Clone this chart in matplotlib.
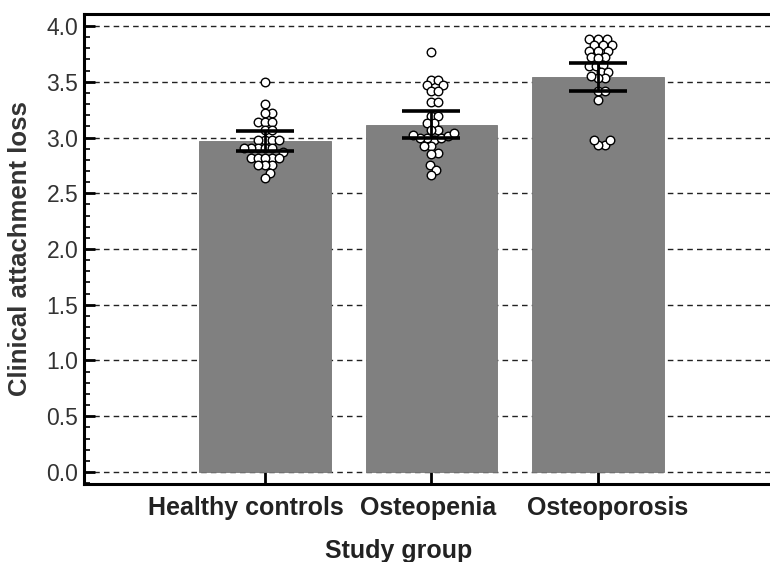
import matplotlib
matplotlib.use('Agg')
import matplotlib.pyplot as plt
import matplotlib.transforms as mtransforms
import numpy as np
from matplotlib.ticker import MultipleLocator

plt.rcParams['font.family'] = ['Liberation Sans', 'DejaVu Sans']

# ---------------- data ----------------
categories = ['Healthy controls', 'Osteopenia', 'Osteoporosis']
means = [2.97, 3.11, 3.54]
ci_low = [2.88, 3.00, 3.42]
ci_high = [3.06, 3.24, 3.67]

healthy = [3.50, 3.30, 3.22, 3.22, 3.14, 3.14, 3.14, 3.07, 3.07,
           2.98, 2.98, 2.98, 2.98, 2.91, 2.91, 2.91, 2.91, 2.91, 2.87,
           2.82, 2.82, 2.82, 2.82, 2.82, 2.75, 2.75, 2.75, 2.68, 2.64]
osteopenia = [3.77, 3.52, 3.52, 3.47, 3.47, 3.42, 3.42, 3.32, 3.32,
              3.19, 3.19, 3.13, 3.13, 3.07, 3.07, 2.98, 3.00, 3.00, 3.00,
              3.01, 3.02, 3.04, 2.92, 2.92, 2.86, 2.85, 2.75, 2.71, 2.66]
osteoporosis = [3.88, 3.88, 3.88, 3.83, 3.83, 3.83, 3.78, 3.78, 3.78,
                3.72, 3.72, 3.71, 3.64, 3.64, 3.65, 3.59, 3.59, 3.53, 3.53,
                3.55, 3.42, 3.42, 3.34, 2.93, 2.93, 2.98, 2.98]
groups = [healthy, osteopenia, osteoporosis]

yticks = [0.0, 0.5, 1.0, 1.5, 2.0, 2.5, 3.0, 3.5, 4.0]
ytick_labels = ['0.0', '0.5', '1.0', '1.5', '2.0', '2.5', '3.0', '3.5', '4.0']

# ---------------- figure ----------------
W, H = 770, 562
fig = plt.figure(figsize=(W / 100, H / 100), dpi=100)
ax = fig.add_axes([84 / W, 1 - 484 / H, 1 - 84 / W, (484 - 14) / H])
ax.set_xlim(-1.087, 3.033)
ax.set_ylim(-0.108, 4.108)

x = np.arange(len(categories))

ax.set_axisbelow(True)
ax.yaxis.grid(True, which='major', linestyle=(0, (4, 3)), color='#222222', lw=1.0)
ax.xaxis.grid(False)

ax.bar(x, means, width=0.787, color='#808080', edgecolor='#777777', lw=0.6, zorder=2)


def swarm(values, center, diam_px, step=0.5):
    trans = ax.transData
    inv = trans.inverted()
    cx = trans.transform((center, 0))[0]
    vals = np.asarray(values, dtype=float)
    ypx = np.array([trans.transform((center, v))[1] for v in vals])
    order = np.argsort(vals)
    placed = []
    xs = np.zeros(len(vals))
    cands = [0.0]
    for k in range(1, 400):
        cands += [k * step, -k * step]
    for i in order:
        for c in cands:
            ok = True
            for (px, py) in placed:
                if (px - c) ** 2 + (py - ypx[i]) ** 2 < diam_px ** 2:
                    ok = False
                    break
            if ok:
                placed.append((c, ypx[i]))
                xs[i] = inv.transform((cx + c, ypx[i]))[0]
                break
    return xs, vals


for gi, g in enumerate(groups):
    xs, vs = swarm(g, x[gi], 7.0)
    ax.scatter(xs, vs, s=38, facecolor='white', edgecolor='black', lw=1.0, zorder=3)

yerr = [np.array(means) - np.array(ci_low), np.array(ci_high) - np.array(means)]
ax.errorbar(x, means, yerr=yerr, fmt='none', ecolor='black', elinewidth=2.0,
            capsize=21, capthick=2.6, zorder=4)

# spines
for s in ['left', 'top', 'bottom']:
    ax.spines[s].set_linewidth(2.2)
    ax.spines[s].set_color('black')
ax.spines['right'].set_visible(False)

ax.set_yticks(yticks)
ax.set_yticklabels(ytick_labels)
ax.yaxis.set_minor_locator(MultipleLocator(0.1))
ax.tick_params(axis='y', which='major', direction='in', length=8, width=2,
               labelsize=16.5, labelcolor='#333333', pad=4)
ax.tick_params(axis='y', which='minor', direction='in', length=4, width=1.2)
ax.set_xticks(x)
ax.set_xticklabels(categories, fontweight='bold')
ax.tick_params(axis='x', which='major', direction='in', length=10, width=2,
               labelsize=18, labelcolor='#222222', pad=9)
ax.tick_params(axis='x', which='minor', bottom=False)

# shift the crowded category labels sideways like the original
label_shift_px = [-19, -3, 10]
for lab, dx in zip(ax.get_xticklabels(), label_shift_px):
    lab.set_transform(lab.get_transform() +
                      mtransforms.ScaledTranslation(dx / 100, 0, fig.dpi_scale_trans))

ax.set_ylabel('Clinical attachment loss', fontsize=18.5, fontweight='bold', color='#333333')
ax.yaxis.set_label_coords(-0.076, 0.5)
ax.set_xlabel('Study group', fontsize=18, fontweight='bold', color='#222222')
ax.xaxis.set_label_coords(0.459, -0.118)

fig.savefig('out.png', dpi=100)
